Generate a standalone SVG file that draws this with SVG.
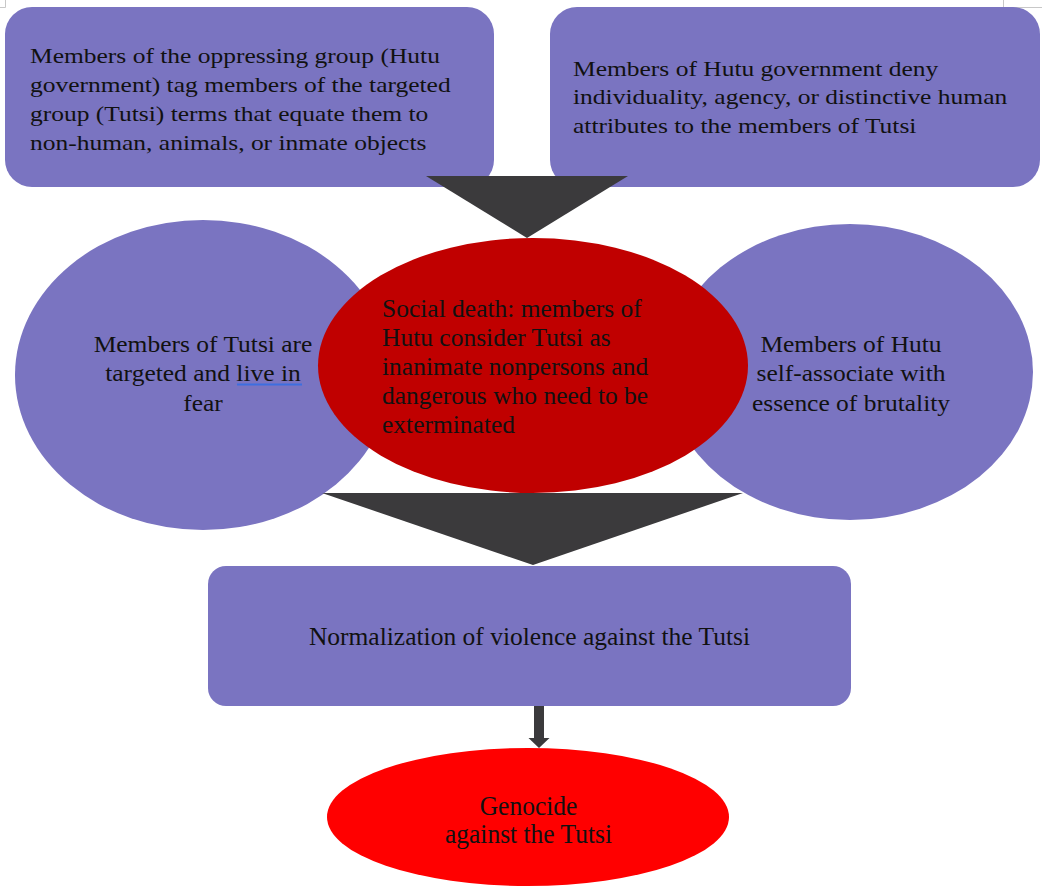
<svg xmlns="http://www.w3.org/2000/svg" width="1042" height="888" viewBox="0 0 1042 888">
  <style>
    .purple { fill: #7a74c1; }
    .txt { font-family: "Liberation Serif", "Times New Roman", serif; font-size: 25.5px; fill: #111; }
    .mid { text-anchor: middle; }
    .conn { fill: #3b3a3c; }
    .mark { stroke: #c8c8c8; stroke-width: 1; fill: none; }
  </style>
  <rect width="1042" height="888" fill="#ffffff"/>
  <g id="marks">
    <path class="mark" d="M5.5 0 V7.5 H0"/>
    <path class="mark" d="M1003.5 0 V7.5 H1042"/>
  </g>
  <g id="node-tag">
    <rect class="purple" x="5" y="7" width="489" height="180" rx="27" ry="27"/>
    <g transform="translate(30,63.3) scale(1,0.85)">
      <text class="txt" x="0" y="0">Members of the oppressing group (Hutu</text>
      <text class="txt" x="0" y="33.6">government) tag members of the targeted</text>
      <text class="txt" x="0" y="67.6">group (Tutsi) terms that equate them to</text>
      <text class="txt" x="0" y="102">non-human, animals, or inmate objects</text>
    </g>
  </g>
  <g id="node-deny">
    <rect class="purple" x="550" y="7" width="490" height="180" rx="27" ry="27"/>
    <g transform="translate(573,76) scale(1,0.85)">
      <text class="txt" x="0" y="0">Members of Hutu government deny</text>
      <text class="txt" x="0" y="33.5">individuality, agency, or distinctive human</text>
      <text class="txt" x="0" y="67.5">attributes to the members of Tutsi</text>
    </g>
  </g>
  <g id="node-fear">
    <ellipse class="purple" cx="203" cy="375" rx="188" ry="155"/>
    <g transform="translate(203,352) scale(1,0.93)">
      <text class="txt mid" x="0" y="0">Members of Tutsi are</text>
      <text class="txt mid" x="0" y="31.7">targeted and live in</text>
      <text class="txt mid" x="0" y="63.4">fear</text>
    </g>
    <line x1="237" y1="384.5" x2="302" y2="384.5" stroke="#3d6ee0" stroke-width="2"/>
  </g>
  <g id="node-brutality">
    <ellipse class="purple" cx="850" cy="372" rx="183" ry="148"/>
    <g transform="translate(851,352) scale(1,0.93)">
      <text class="txt mid" x="0" y="0">Members of Hutu</text>
      <text class="txt mid" x="0" y="31.2">self-associate with</text>
      <text class="txt mid" x="0" y="63.4">essence of brutality</text>
    </g>
  </g>
  <g id="node-social-death">
    <ellipse cx="533" cy="365.5" rx="215" ry="127.5" fill="#c00000"/>
    <g transform="translate(382,317) scale(1,0.97)">
      <text class="txt" x="0" y="0">Social death: members of</text>
      <text class="txt" x="0" y="29.9">Hutu consider Tutsi as</text>
      <text class="txt" x="0" y="59.8">inanimate nonpersons and</text>
      <text class="txt" x="0" y="89.7">dangerous who need to be</text>
      <text class="txt" x="0" y="119.6">exterminated</text>
    </g>
  </g>
  <g id="node-normalization">
    <rect class="purple" x="208" y="566" width="643" height="140" rx="18" ry="18"/>
    <text class="txt mid" x="529.5" y="645">Normalization of violence against the Tutsi</text>
  </g>
  <g id="node-genocide">
    <ellipse cx="528" cy="817" rx="201" ry="69" fill="#ff0000"/>
    <g transform="translate(528.5,815) scale(1,1.08)">
      <text class="txt mid" x="0" y="0">Genocide</text>
      <text class="txt mid" x="0" y="25.9">against the Tutsi</text>
    </g>
  </g>
  <g id="connectors">
    <polygon class="conn" points="426,176 628,176 527,238"/>
    <polygon class="conn" points="322,493 743,493 533,565"/>
    <polygon class="conn" points="534,706 544,706 544,738 549.5,738 539,748 528.5,738 534,738"/>
  </g>
</svg>
